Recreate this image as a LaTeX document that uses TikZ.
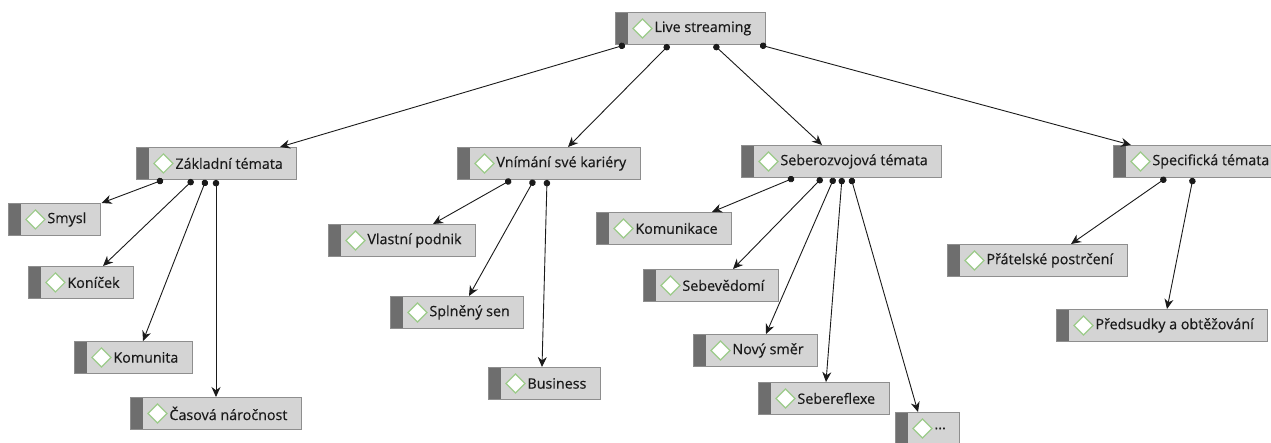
\documentclass[tikz,border=0pt]{standalone}
\usepackage{fontspec}
\setmainfont{Open Sans}
\newfontfamily\topicfont[FakeBold=0.35]{Open Sans}
\usepackage{xcolor}
\definecolor{boxfill}{HTML}{D4D4D4}
\definecolor{boxedge}{HTML}{8E8E8E}
\definecolor{bardark}{HTML}{6E6E6E}
\definecolor{leafgreen}{HTML}{9CCB8A}
\definecolor{inkdark}{HTML}{1A1A1A}
\usetikzlibrary{arrows.meta}

\tikzset{
  topic/.style={draw=boxedge, fill=boxfill, line width=0.9pt, anchor=north west,
    minimum height=32pt, inner xsep=14pt, inner ysep=0pt, text=inkdark,
    font=\topicfont\fontsize{14.3}{16}\selectfont,
    execute at begin node={\hspace*{25pt}},
    path picture={
      \fill[bardark] (path picture bounding box.south west)
        rectangle ([xshift=13pt]path picture bounding box.north west);
      \draw[leafgreen, fill=white, line width=1.2pt]
        ([xshift=27pt]path picture bounding box.west)
        +(-9.5pt,0) -- +(0,9.5pt) -- +(9.5pt,0) -- +(0,-9.5pt) -- cycle;
    }},
  link/.style={draw=inkdark, line width=0.9pt,
    {Circle[length=6.5pt]}-{Stealth[length=10pt,width=9pt]}}
}

\begin{document}
\begin{tikzpicture}[x=1pt, y=-1pt]
  \useasboundingbox (0,0) rectangle (1271,443);
  % Root
  \node[topic] (root) at (615,12) {Live streaming};
  % Main branches
  \node[topic] (zakl) at (136,147) {Základní témata};
  \node[topic] (vnim) at (457,147) {Vnímání své kariéry};
  \node[topic] (sebe) at (741,145) {Seberozvojová témata};
  \node[topic] (spec) at (1113,145) {Specifická témata};
  % Leaves
  \node[topic] (smysl) at (8,203) {Smysl};
  \node[topic] (konicek) at (28,266) {Koníček};
  \node[topic] (komunita) at (74,341) {Komunita};
  \node[topic] (casova) at (130,397) {Časová náročnost};
  \node[topic] (vlastni) at (328,224) {Vlastní podnik};
  \node[topic] (splneny) at (390,296) {Splněný sen};
  \node[topic] (business) at (488,367) {Business};
  \node[topic] (komunikace) at (596,212) {Komunikace};
  \node[topic] (sebevedomi) at (643,269) {Sebevědomí};
  \node[topic] (novy) at (693,334) {Nový směr};
  \node[topic] (sebereflexe) at (758,382) {Sebereflexe};
  \node[topic] (etc) at (895,412) {...};
  \node[topic] (pratelske) at (947,244) {Přátelské postrčení};
  \node[topic] (predsudky) at (1056,309) {Předsudky a obtěžování};
  % Connectors
  \foreach \p/\a/\c/\b in {root/10/zakl.north west/144, root/54/vnim.north west/111,
      root/99/sebe.north west/81, root/145/spec.north west/18,
      zakl/27/smysl.north east/1, zakl/57/konicek.north west/75,
      zakl/70/komunita.north west/69, zakl/80/casova.north west/86,
      vnim/54/vlastni.north west/105, vnim/77/splneny.north west/79,
      vnim/90/business.north west/54,
      sebe/53/komunikace.north west/116, sebe/81/sebevedomi.north west/90,
      sebe/93/novy.north west/73, sebe/101/sebereflexe.north west/68,
      sebe/110/etc.north west/23,
      spec/53/pratelske.north west/124, spec/80/predsudky.north west/111} {
    \draw[link] ([xshift=\a pt]\p.south west) -- ([xshift=\b pt]\c);
  }
\end{tikzpicture}
\end{document}
